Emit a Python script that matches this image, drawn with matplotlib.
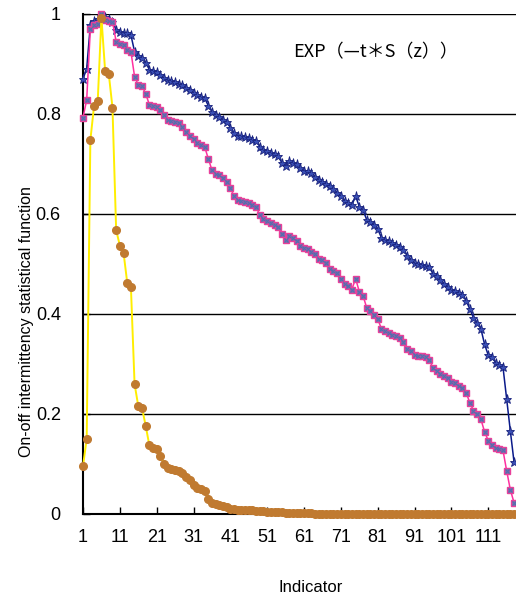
import matplotlib.pyplot as plt
import numpy as np

# values
blue = [0.870, 0.891, 0.978, 0.987, 0.991, 0.996, 0.994, 0.991, 0.984, 0.968,
        0.965, 0.963, 0.962, 0.958, 0.925, 0.916, 0.913, 0.903, 0.889, 0.887,
        0.885, 0.878, 0.872, 0.868, 0.866, 0.864, 0.861, 0.858, 0.853, 0.849,
        0.843, 0.838, 0.835, 0.832, 0.817, 0.805, 0.798, 0.794, 0.789, 0.784,
        0.773, 0.762, 0.757, 0.756, 0.755, 0.752, 0.749, 0.747, 0.735, 0.729,
        0.726, 0.723, 0.720, 0.716, 0.702, 0.697, 0.706, 0.703, 0.700, 0.692,
        0.687, 0.686, 0.683, 0.675, 0.669, 0.665, 0.661, 0.656, 0.650, 0.643,
        0.636, 0.627, 0.623, 0.618, 0.636, 0.615, 0.608, 0.589, 0.584, 0.579,
        0.570, 0.553, 0.548, 0.546, 0.543, 0.539, 0.535, 0.529, 0.517, 0.509,
        0.502, 0.500, 0.499, 0.497, 0.495, 0.480, 0.476, 0.468, 0.461, 0.455,
        0.449, 0.446, 0.443, 0.439, 0.427, 0.410, 0.393, 0.383, 0.371, 0.340,
        0.318, 0.314, 0.303, 0.298, 0.295, 0.231, 0.167, 0.105]

pink = [0.793, 0.828, 0.971, 0.979, 0.981, 1.000, 0.988, 0.987, 0.985, 0.945,
        0.941, 0.939, 0.928, 0.925, 0.875, 0.858, 0.856, 0.841, 0.819, 0.817,
        0.815, 0.808, 0.798, 0.789, 0.787, 0.785, 0.782, 0.774, 0.765, 0.757,
        0.750, 0.743, 0.738, 0.735, 0.711, 0.688, 0.681, 0.678, 0.672, 0.664,
        0.652, 0.636, 0.629, 0.626, 0.625, 0.623, 0.619, 0.614, 0.598, 0.591,
        0.586, 0.582, 0.579, 0.575, 0.561, 0.548, 0.556, 0.552, 0.546, 0.537,
        0.533, 0.530, 0.525, 0.520, 0.511, 0.508, 0.502, 0.490, 0.487, 0.482,
        0.471, 0.460, 0.456, 0.449, 0.471, 0.445, 0.437, 0.413, 0.406, 0.398,
        0.390, 0.371, 0.366, 0.363, 0.359, 0.356, 0.352, 0.345, 0.331, 0.326,
        0.319, 0.316, 0.316, 0.315, 0.309, 0.292, 0.287, 0.280, 0.276, 0.273,
        0.265, 0.262, 0.257, 0.253, 0.243, 0.223, 0.207, 0.201, 0.190, 0.165,
        0.147, 0.138, 0.133, 0.131, 0.128, 0.087, 0.049, 0.023]

yellow = [0.096, 0.150, 0.748, 0.816, 0.826, 0.993, 0.887, 0.880, 0.813, 0.568,
          0.537, 0.523, 0.463, 0.455, 0.260, 0.216, 0.213, 0.177, 0.138, 0.133,
          0.131, 0.117, 0.101, 0.092, 0.090, 0.089, 0.087, 0.083, 0.075, 0.068,
          0.058, 0.052, 0.050, 0.047, 0.031, 0.023, 0.021, 0.019, 0.017, 0.014,
          0.011, 0.010, 0.009, 0.009, 0.009, 0.008, 0.008, 0.007, 0.006, 0.006,
          0.005, 0.005, 0.004, 0.004, 0.004, 0.003, 0.003, 0.003, 0.002, 0.002,
          0.002, 0.002, 0.002, 0.001, 0.001, 0.001, 0.001, 0.001, 0.001, 0.001,
          0.001, 0.001, 0.000, 0.000, 0.000, 0.000, 0.000, 0.000, 0.000, 0.000,
          0.000, 0.000, 0.000, 0.000, 0.000, 0.000, 0.000, 0.000, 0.000, 0.000,
          0.000, 0.000, 0.000, 0.000, 0.000, 0.000, 0.000, 0.000, 0.000, 0.000,
          0.000, 0.000, 0.000, 0.000, 0.000, 0.000, 0.000, 0.000, 0.000, 0.000,
          0.000, 0.000, 0.000, 0.000, 0.000, 0.000, 0.000, 0.000]

idx = np.arange(1, len(blue) + 1)
xticks = list(range(1, 112, 10))
yticks = [0, 0.2, 0.4, 0.6, 0.8, 1]
ylabels = ["0", "0.2", "0.4", "0.6", "0.8", "1"]

W, H = 516, 596
fig = plt.figure(figsize=(W / 100, H / 100), dpi=100)
ax = fig.add_axes([83 / W, 1 - 514 / H, (W - 83) / W, 500 / H])

ax.plot(idx, blue, color="#0a1a8a", lw=1.1, marker="*", ms=6.5,
        mfc="#3a4fb5", mec="#1a237e", mew=0.6, clip_on=False, zorder=3)
ax.plot(idx, pink, color="#ff2fa0", lw=1.1, marker="s", ms=5,
        mfc="#8a68a8", mec="#e8409a", mew=1.0, clip_on=False, zorder=4)
ax.plot(idx, pink, ls="none", marker="x", ms=3.5, mec="#4f6fb0", mew=0.8,
        clip_on=False, zorder=4)
ax.plot(idx, yellow, color="#ffee00", lw=1.4, marker="o", ms=5.5,
        mfc="#c07a30", mec="#c07a30", clip_on=False, zorder=5)

ax.set_xlim(1, 1 + (W - 84) / 3.675)
ax.set_ylim(0, 1)
ax.set_xticks(xticks)
ax.set_xticklabels([str(t) for t in xticks], fontsize=13, family="Liberation Sans")
ax.set_yticks(yticks)
ax.set_yticklabels(ylabels, fontsize=13, family="Liberation Sans")
ax.tick_params(axis="x", direction="in", length=5, pad=11, width=1)
ax.tick_params(axis="y", direction="in", length=5, pad=16, width=1)

ax.yaxis.grid(True, color="black", lw=1)
ax.set_axisbelow(True)
for s in ["top", "right"]:
    ax.spines[s].set_visible(False)
for s in ["left", "bottom"]:
    ax.spines[s].set_linewidth(1.5)
    ax.spines[s].set_color("black")

fig.text(27 / W, 1 - 322 / H, "On-off intermittency statistical function",
         rotation=90, ha="center", va="center", fontsize=11.5, family="Liberation Sans")
fig.text(311 / W, 1 - 587 / H, "Indicator", ha="center", va="center",
         fontsize=12, family="Liberation Sans")
fig.text(293 / W, 1 - 52 / H, "EXP（—t＊S（z））", ha="left", va="center",
         fontsize=13, family=["Noto Sans CJK JP", "DejaVu Sans"])

fig.savefig("out.png", dpi=100)
